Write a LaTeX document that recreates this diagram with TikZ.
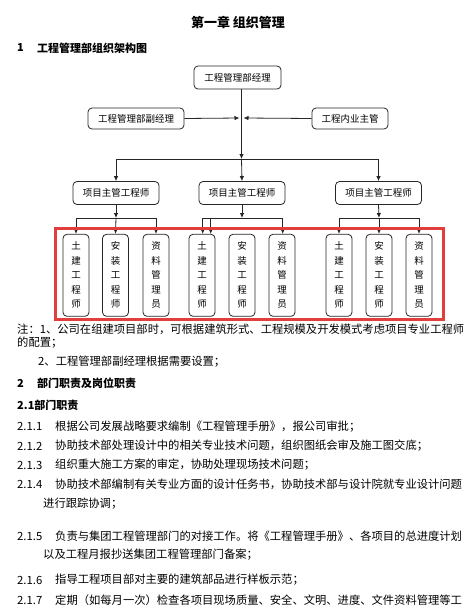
\documentclass[tikz,border=0pt]{standalone}
\usepackage{fontspec}
\setmainfont{Noto Sans CJK SC}
\usetikzlibrary{arrows.meta,positioning}

\definecolor{markred}{RGB}{226,62,62}

\begin{document}
\begin{tikzpicture}[x=1pt,y=-1pt,>={Latex[length=5pt,width=4.5pt]},
  box/.style={draw=black!85,line width=0.8pt,rounded corners=4pt,inner sep=0pt,font=\fontsize{9.5}{9.5}\selectfont},
  vbox/.style={box,minimum width=26pt,minimum height=82pt,align=center,font=\fontsize{9.5}{14.5}\selectfont},
  link/.style={line width=0.8pt,draw=black!85},
  txt/.style={anchor=west,inner sep=0pt,font=\fontsize{11.3}{11.3}\selectfont},
  head/.style={txt,font=\fontsize{11}{11}\selectfont\bfseries}]
\fill[white] (0,0) rectangle (463,613);

% title and section heading
\node[inner sep=0pt,font=\fontsize{13}{13}\selectfont\bfseries] (title) at (238,22) {第一章\ 组织管理};
\node[head] (sec1num) at (17,48) {1};
\node[head] (sec1) at (37,48) {工程管理部组织架构图};

% org chart
\node[box,minimum width=87pt,minimum height=23pt] (mgr) at (237.5,77.5) {工程管理部经理};
\node[box,minimum width=96pt,minimum height=21pt] (deputy) at (136,118.5) {工程管理部副经理};
\node[box,minimum width=76pt,minimum height=21pt] (office) at (350,118.5) {工程内业主管};
\coordinate (hub) at (241.5,118);
\coordinate (bus) at (241.5,159);

\node[box,minimum width=86pt,minimum height=23pt] (eng1) at (116,193) {项目主管工程师};
\node[box,minimum width=86pt,minimum height=23pt] (eng2) at (242,193) {项目主管工程师};
\node[box,minimum width=86pt,minimum height=23pt] (eng3) at (378.5,193) {项目主管工程师};

\node[vbox] (civ1) at (76,275.3) {土\\建\\工\\程\\师};
\node[vbox] (ins1) at (115.5,275.3) {安\\装\\工\\程\\师};
\node[vbox] (doc1) at (156,275.3) {资\\料\\管\\理\\员};
\node[vbox] (civ2) at (202,275.3) {土\\建\\工\\程\\师};
\node[vbox] (ins2) at (242,275.3) {安\\装\\工\\程\\师};
\node[vbox] (doc2) at (282,275.3) {资\\料\\管\\理\\员};
\node[vbox] (civ3) at (339,275.3) {土\\建\\工\\程\\师};
\node[vbox] (ins3) at (379,275.3) {安\\装\\工\\程\\师};
\node[vbox] (doc3) at (419,275.3) {资\\料\\管\\理\\员};

\coordinate (sub1) at (116,218);
\coordinate (sub2) at (242,218);
\coordinate (sub3) at (379,218);

% connectors
\draw[link,->] (mgr.south -| hub) -- (bus);
\draw[link,->] (deputy.east) -- ([xshift=-2pt]hub);
\draw[link,->] (office.west) -- ([xshift=2pt]hub);
\draw[link] (eng1 |- bus) -- (eng3 |- bus);
\draw[link,->] (eng1 |- bus) -- (eng1.north);
\draw[link,->] (bus) -- (eng2.north);
\draw[link,->] (eng3 |- bus) -- (eng3.north);

\draw[link,->] (eng1.south) -- (sub1);
\draw[link] (civ1 |- sub1) -- (doc1 |- sub1);
\draw[link,->] (civ1 |- sub1) -- (civ1.north);
\draw[link,->] (sub1) -- (ins1.north);
\draw[link,->] (doc1 |- sub1) -- (doc1.north);

\draw[link,->] (eng2.south) -- (sub2);
\draw[link] ([xshift=0.7pt]civ2 |- sub2) -- ([xshift=0.7pt]doc2 |- sub2);
\draw[link,->] ([xshift=0.7pt]civ2 |- sub2) -- ([xshift=0.7pt]civ2.north);
\draw[link,->] ([xshift=8.7pt]civ2 |- sub2) -- ([xshift=8.7pt]civ2.north);
\draw[link,->] ([xshift=0.7pt]doc2 |- sub2) -- ([xshift=0.7pt]doc2.north);

\draw[link,->] (eng3.south) -- (sub3);
\draw[link] (civ3 |- sub3) -- (doc3 |- sub3);
\draw[link,->] (civ3 |- sub3) -- (civ3.north);
\draw[link,->] (sub3) -- (ins3.north);
\draw[link,->] (doc3 |- sub3) -- (doc3.north);

% red marking frame
\draw[markred,line width=3pt] (55,228) rectangle (443,319);

% notes
\node[txt] (note1) at (17,329.5) {注：1、公司在组建项目部时，可根据建筑形式、工程规模及开发模式考虑项目专业工程师};
\node[txt] (note1b) at (17,342.7) {的配置；};
\node[txt] (note2) at (38,361.7) {2、工程管理部副经理根据需要设置；};

% section 2
\node[head] (sec2num) at (17,383.3) {2};
\node[head] (sec2) at (37,383.3) {部门职责及岗位职责};
\node[head] (sec21) at (17,405) {2.1部门职责};

\node[txt] (num1) at (17,426.7) {2.1.1};
\node[txt] (item1) at (55,426.7) {根据公司发展战略要求编制《工程管理手册》，报公司审批；};
\node[txt] (num2) at (17,446) {2.1.2};
\node[txt] (item2) at (55,446) {协助技术部处理设计中的相关专业技术问题，组织图纸会审及施工图交底；};
\node[txt] (num3) at (17,465) {2.1.3};
\node[txt] (item3) at (55,465) {组织重大施工方案的审定，协助处理现场技术问题；};
\node[txt] (num4) at (17,484) {2.1.4};
\node[txt] (item4) at (55,484) {协助技术部编制有关专业方面的设计任务书，协助技术部与设计院就专业设计问题};
\node[txt] (item4b) at (43,503.3) {进行跟踪协调；};
\node[txt] (num5) at (17,536) {2.1.5};
\node[txt] (item5) at (55,536) {负责与集团工程管理部门的对接工作。将《工程管理手册》、各项目的总进度计划};
\node[txt] (item5b) at (43,555) {以及工程月报抄送集团工程管理部门备案；};
\node[txt] (num6) at (17,580) {2.1.6};
\node[txt] (item6) at (55,580) {指导工程项目部对主要的建筑部品进行样板示范；};
\node[txt] (num7) at (17,600) {2.1.7};
\node[txt] (item7) at (55,600) {定期（如每月一次）检查各项目现场质量、安全、文明、进度、文件资料管理等工};
\end{tikzpicture}
\end{document}
